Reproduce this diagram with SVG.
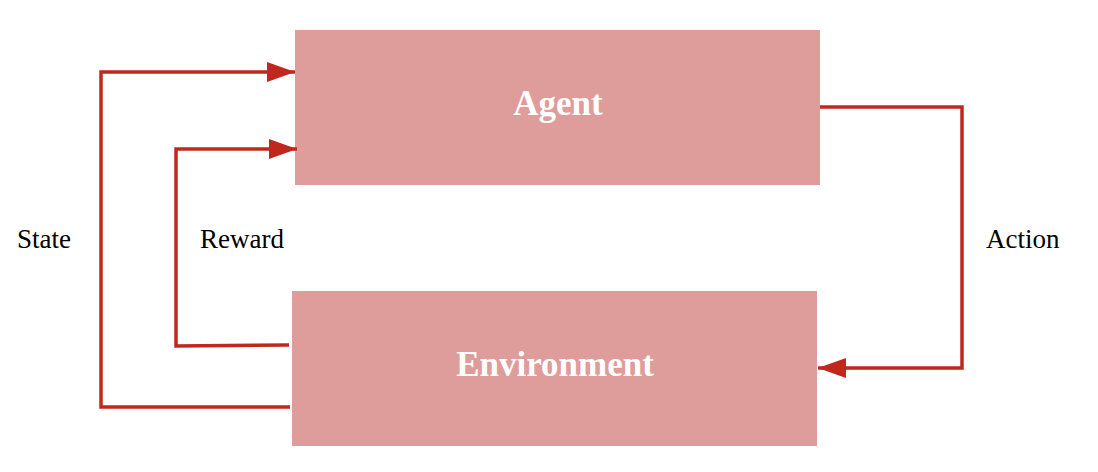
<svg xmlns="http://www.w3.org/2000/svg" width="1098" height="472" viewBox="0 0 1098 472">
<style>
.box{fill:#DE9C9A;}
.title{font-family:"Liberation Serif","DejaVu Serif",serif;font-weight:bold;font-size:35px;fill:#FFFFFF;text-anchor:middle;}
.lbl{font-family:"Liberation Serif","DejaVu Serif",serif;font-size:27px;fill:#000000;}
.conn{fill:none;stroke:#C0281E;stroke-width:3.5;}
</style>
<defs>
<marker id="arr" markerUnits="userSpaceOnUse" markerWidth="28" markerHeight="20" refX="28" refY="10" orient="auto">
<path d="M0,0 L28,10 L0,20 Z" fill="#C0281E"/>
</marker>
</defs>
<rect width="1098" height="472" fill="#FFFFFF"/>
<g id="agent">
<rect class="box" x="295" y="30" width="525" height="155"/>
<text class="title" x="558" y="115">Agent</text>
</g>
<g id="environment">
<rect class="box" x="292" y="291" width="525" height="155"/>
<text class="title" x="555" y="376">Environment</text>
</g>
<g id="connectors">
<polyline class="conn" points="290,407 101,407 101,72 295,72" marker-end="url(#arr)"/>
<polyline class="conn" points="289,345 176,346 176,149 297,149" marker-end="url(#arr)"/>
<polyline class="conn" points="820,107 962,107 962,368 818,368" marker-end="url(#arr)"/>
</g>
<g id="labels">
<text class="lbl" x="17" y="248">State</text>
<text class="lbl" x="200" y="248">Reward</text>
<text class="lbl" x="986" y="248">Action</text>
</g>
</svg>
